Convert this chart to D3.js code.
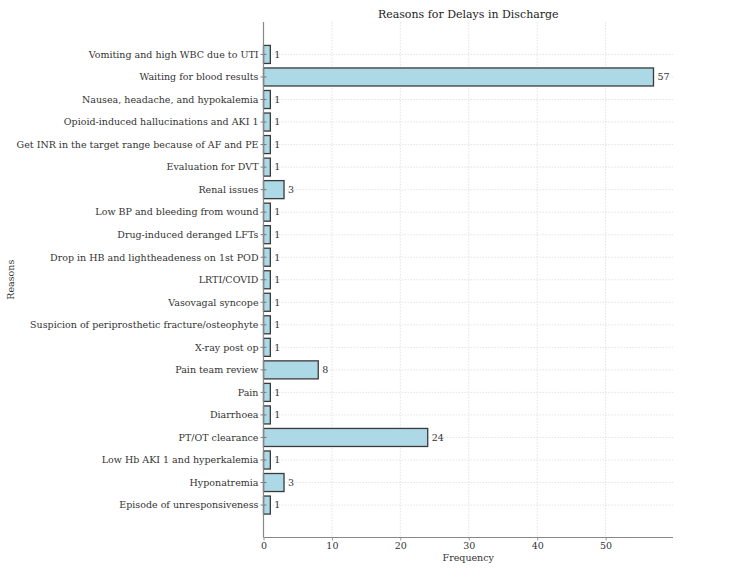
<!DOCTYPE html>
<html>
<head>
<meta charset="utf-8">
<script src="https://cdn.jsdelivr.net/npm/d3@7"></script>
<style>
  html, body { margin: 0; padding: 0; background: #fff; }
  svg { display: block; font-family: "DejaVu Serif", serif; }
</style>
</head>
<body>
<svg id="chart" width="750" height="586"></svg>
<script>
const categories = [
  "Vomiting and high WBC due to UTI",
  "Waiting for blood results",
  "Nausea, headache, and hypokalemia",
  "Opioid-induced hallucinations and AKI 1",
  "Get INR in the target range because of AF and PE",
  "Evaluation for DVT",
  "Renal issues",
  "Low BP and bleeding from wound",
  "Drug-induced deranged LFTs",
  "Drop in HB and lightheadeness on 1st POD",
  "LRTI/COVID",
  "Vasovagal syncope",
  "Suspicion of periprosthetic fracture/osteophyte",
  "X-ray post op",
  "Pain team review",
  "Pain",
  "Diarrhoea",
  "PT/OT clearance",
  "Low Hb AKI 1 and hyperkalemia",
  "Hyponatremia",
  "Episode of unresponsiveness"
];
const values = [1, 57, 1, 1, 1, 1, 3, 1, 1, 1, 1, 1, 1, 1, 8, 1, 1, 24, 1, 3, 1];
const xTicks = [0, 10, 20, 30, 40, 50];
const title = "Reasons for Delays in Discharge";
const xLabel = "Frequency";
const yLabel = "Reasons";

(function () {
const svg = d3.select("#chart");
const pLeft = 263.5, pRight = 673, pTop = 22, pBottom = 537.5;
const n = categories.length;
const maxV = d3.max(values);
const fs = 9.5;

const x = d3.scaleLinear().domain([0, maxV * 1.05]).range([pLeft, pRight]);
const span = (n - 1) + 0.8;
const lo = -0.4 - span * 0.05, hi = (n - 1) + 0.4 + span * 0.05;
const yPos = d3.scaleLinear().domain([lo, hi]).range([pTop, pBottom]);
const barH = yPos(0.8) - yPos(0);

const textColor = "#333";
const gridColor = "#dcdcdc";

const g = svg.append("g");
g.selectAll("line.vgrid").data(xTicks).join("line")
  .attr("x1", d => x(d)).attr("x2", d => x(d))
  .attr("y1", pTop).attr("y2", pBottom)
  .attr("stroke", gridColor).attr("stroke-width", 0.8).attr("stroke-dasharray", "1.5,1.5");
g.selectAll("line.hgrid").data(categories).join("line")
  .attr("x1", pLeft).attr("x2", pRight)
  .attr("y1", (d, i) => yPos(i)).attr("y2", (d, i) => yPos(i))
  .attr("stroke", gridColor).attr("stroke-width", 0.8).attr("stroke-dasharray", "1.5,1.5");

svg.append("g").selectAll("rect").data(values).join("rect")
  .attr("x", x(0))
  .attr("y", (d, i) => yPos(i) - barH / 2)
  .attr("width", d => x(d) - x(0))
  .attr("height", barH)
  .attr("fill", "#add8e6")
  .attr("stroke", "#3a3a3a")
  .attr("stroke-width", 1.3);

svg.append("g").selectAll("text").data(values).join("text")
  .attr("x", d => x(d) + 4)
  .attr("y", (d, i) => yPos(i))
  .attr("dy", "0.35em")
  .attr("font-size", fs)
  .attr("fill", textColor)
  .text(d => d);

const xAxis = d3.axisBottom(x).tickValues(xTicks).tickSize(3).tickPadding(2);
const xg = svg.append("g").attr("transform", `translate(0,${pBottom})`).call(xAxis);
xg.select(".domain").remove();
xg.selectAll(".tick line").attr("stroke", "#999");
xg.selectAll(".tick text").attr("font-size", fs).attr("fill", textColor).attr("font-family", "DejaVu Serif, serif");

const yg = svg.append("g");
yg.selectAll("line").data(categories).join("line")
  .attr("x1", pLeft - 3).attr("x2", pLeft + 3)
  .attr("y1", (d, i) => yPos(i)).attr("y2", (d, i) => yPos(i))
  .attr("stroke", "#666").attr("stroke-width", 0.8);
yg.selectAll("text").data(categories).join("text")
  .attr("x", pLeft - 5)
  .attr("y", (d, i) => yPos(i))
  .attr("dy", "0.35em")
  .attr("text-anchor", "end")
  .attr("font-size", fs)
  .attr("fill", textColor)
  .text(d => d);

svg.append("line").attr("x1", pLeft).attr("x2", pLeft).attr("y1", pTop).attr("y2", pBottom)
  .attr("stroke", "#888").attr("stroke-width", 1.2);
svg.append("line").attr("x1", pLeft).attr("x2", pRight).attr("y1", pBottom).attr("y2", pBottom)
  .attr("stroke", "#888").attr("stroke-width", 1.2);

svg.append("text").attr("x", (pLeft + pRight) / 2).attr("y", 18)
  .attr("text-anchor", "middle").attr("font-size", 11).attr("fill", "#222").text(title);
svg.append("text").attr("x", (pLeft + pRight) / 2).attr("y", 561)
  .attr("text-anchor", "middle").attr("font-size", fs).attr("fill", textColor).text(xLabel);
svg.append("text").attr("transform", `translate(14,${(pTop + pBottom) / 2}) rotate(-90)`)
  .attr("text-anchor", "middle").attr("font-size", fs).attr("fill", textColor).text(yLabel);
})();
</script>
</body>
</html>
